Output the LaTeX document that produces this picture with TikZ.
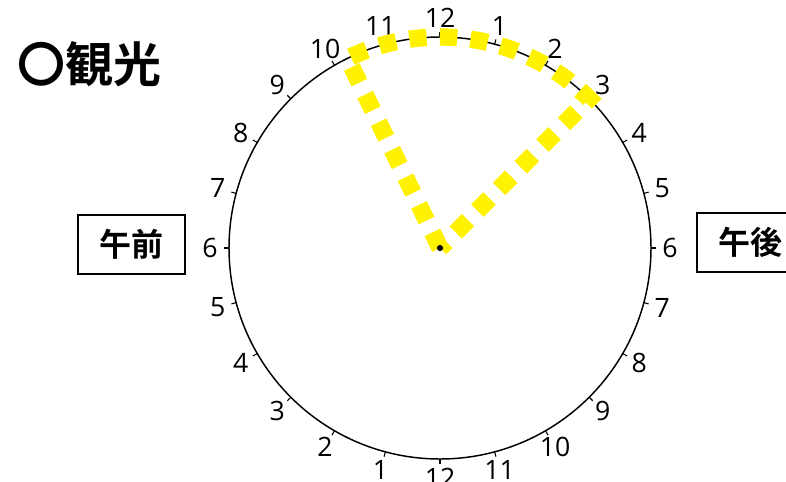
\documentclass[tikz,border=0pt]{standalone}
\usepackage{fontspec}
\setmainfont{Open Sans}
\newfontfamily\cjk{Noto Sans CJK JP}[BoldFont={* Bold}]
\begin{document}
\begin{tikzpicture}[x=0.75pt,y=-0.75pt,
  num/.style={font=\fontsize{20}{24}\selectfont, inner sep=0pt},
  tbox/.style={draw, line width=1.5pt, minimum width=80.25pt, minimum height=44.25pt, inner sep=0pt,
    font=\cjk\bfseries\fontsize{24}{28}\selectfont},
  tickmark/.style={line width=0.8pt},
  rim/.style={line width=1.1pt},
  sector/.style={draw=yellow, line width=13pt, dash pattern=on 13pt off 10pt}]
\useasboundingbox (0,0) rectangle (786,482);
\coordinate (c) at (440,248);
\draw[rim] (c) circle[radius=158.25pt];
\foreach \i in {0,...,23}{
  \pgfmathsetmacro\a{15*\i}
  \pgfmathtruncatemacro\lab{mod(\i+11,12)+1}
  \draw[tickmark] ({440+211*sin(\a)},{248-211*cos(\a)}) -- ({440+216*sin(\a)},{248-216*cos(\a)});
  \node[num] (n\i) at ({440+230*sin(\a)},{248-230*cos(\a)}) {\lab};
}
\draw[sector] (c) -- plot[domain=-26:45, samples=60] ({440+211*sin(\x)},{248-211*cos(\x)}) -- cycle;
\fill (c) circle[radius=2.3pt];
\node[anchor=base west, inner sep=0pt, font=\cjk\bfseries\fontsize{36}{40}\selectfont] (title) at (17,82) {〇観光};
\node[tbox] (am) at (131.5,244.5) {午前};
\node[tbox] (pm) at (750.5,242.5) {午後};
\end{tikzpicture}
\end{document}
